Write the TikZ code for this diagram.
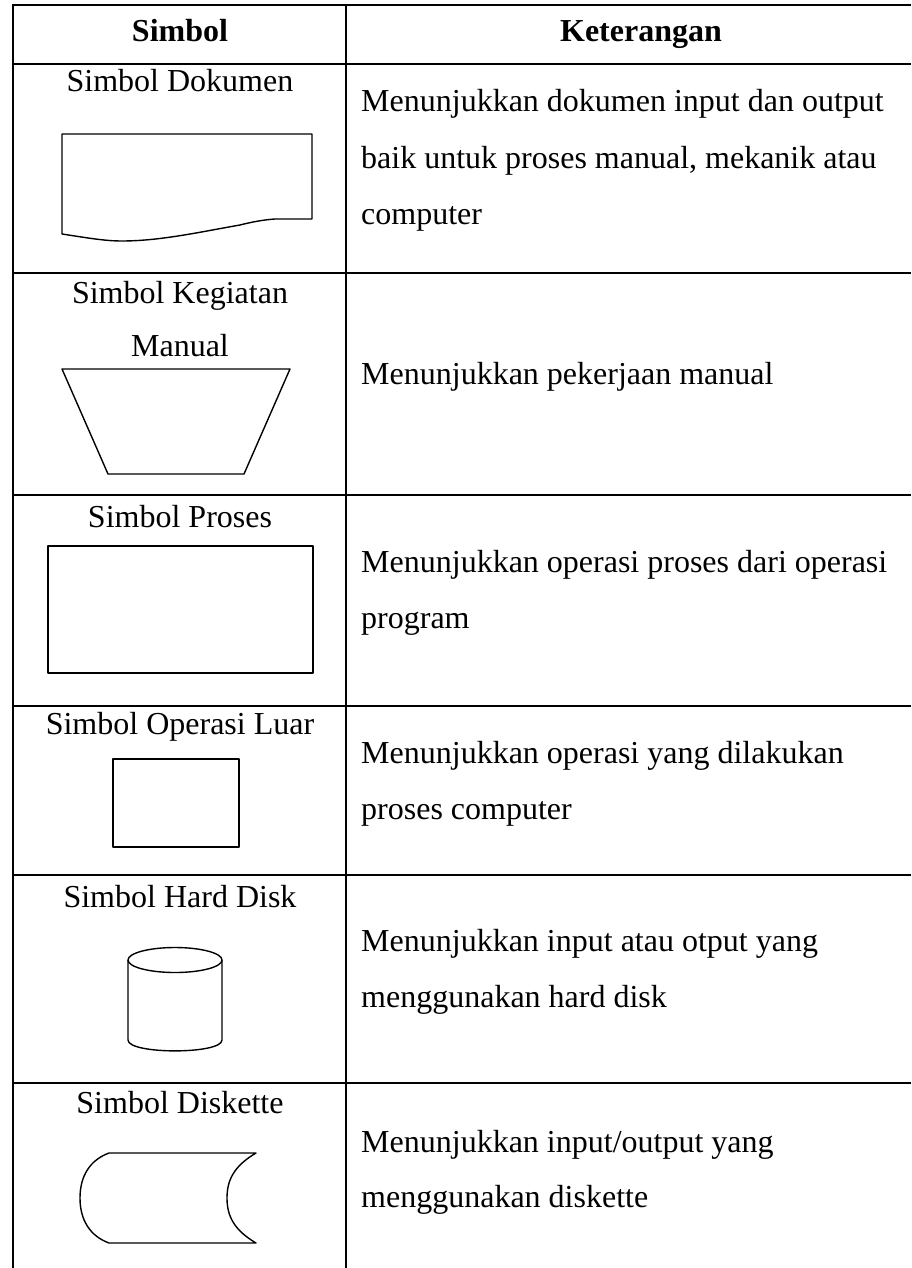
\documentclass[tikz,border=0pt]{standalone}
\usepackage{fontspec}
\setmainfont{Liberation Serif}
\begin{document}
\begin{tikzpicture}[x=1pt,y=-1pt,
  rule/.style={line width=2pt},
  shapeline/.style={line width=1.4pt, line join=round},
  cell/.style={inner sep=0pt, anchor=base, font=\fontsize{32}{56}\selectfont},
  desc/.style={inner sep=0pt, anchor=base west, font=\fontsize{32}{56}\selectfont},
  head/.style={inner sep=0pt, anchor=base, font=\fontsize{32}{56}\selectfont\bfseries}]
\useasboundingbox (0,0) rectangle (911,1268);

% table rules
\foreach \yy in {5,64,273,495,706,875,1083}
  \draw[rule] (12,\yy) -- (911,\yy);
\draw[rule] (13,4) -- (13,1268);
\draw[rule] (346,4) -- (346,1268);

% header
\node[head] (h1) at (180,42) {Simbol};
\node[head] (h2) at (641,42) {Keterangan};

% row 1: document
\node[cell] (s1) at (180,92) {Simbol Dokumen};
\draw[shapeline] (62,234) -- (62,134) -- (312,134) -- (312,219) -- (275,219)
  .. controls (262,220) and (252,222) .. (240,225)
  .. controls (200,232) and (160,241) .. (122,241)
  .. controls (105,241) and (88,238) .. (62,234) -- cycle;
\node[desc] (d1a) at (361,112) {Menunjukkan dokumen input dan output};
\node[desc] (d1b) at (361,168) {baik untuk proses manual, mekanik atau};
\node[desc] (d1c) at (361,224) {computer};

% row 2: manual operation
\node[cell] (s2a) at (180,303) {Simbol Kegiatan};
\node[cell] (s2b) at (180,356) {Manual};
\draw[shapeline] (62,369) -- (290,369) -- (244,474) -- (108,474) -- cycle;
\node[desc] (d2) at (361,384) {Menunjukkan pekerjaan manual};

% row 3: process
\node[cell] (s3) at (180,527) {Simbol Proses};
\draw[shapeline] (48,546) rectangle (313,673);
\node[desc] (d3a) at (361,572) {Menunjukkan operasi proses dari operasi};
\node[desc] (d3b) at (361,628) {program};

% row 4: external operation
\node[cell] (s4) at (180,734) {Simbol Operasi Luar};
\draw[shapeline] (113,759) rectangle (239,847);
\node[desc] (d4a) at (361,763) {Menunjukkan operasi yang dilakukan};
\node[desc] (d4b) at (361,819) {proses computer};

% row 5: hard disk
\node[cell] (s5) at (180,907) {Simbol Hard Disk};
\draw[shapeline] (175,960) ellipse [x radius=47pt, y radius=12.5pt];
\draw[shapeline] (128,960) -- (128,1040)
  .. controls (128,1054.5) and (222,1054.5) .. (222,1040) -- (222,960);
\node[desc] (d5a) at (361,951) {Menunjukkan input atau otput yang};
\node[desc] (d5b) at (361,1007) {menggunakan hard disk};

% row 6: diskette
\node[cell] (s6) at (180,1113) {Simbol Diskette};
\draw[shapeline] (109,1153) -- (256,1153)
  .. controls (234,1166) and (227,1180) .. (227,1198)
  .. controls (227,1216) and (234,1230) .. (256,1243)
  -- (109,1243)
  .. controls (90,1236) and (80,1220) .. (80,1198)
  .. controls (80,1176) and (90,1160) .. (109,1153) -- cycle;
\node[desc] (d6a) at (361,1152) {Menunjukkan input/output yang};
\node[desc] (d6b) at (361,1207) {menggunakan diskette};
\end{tikzpicture}
\end{document}
